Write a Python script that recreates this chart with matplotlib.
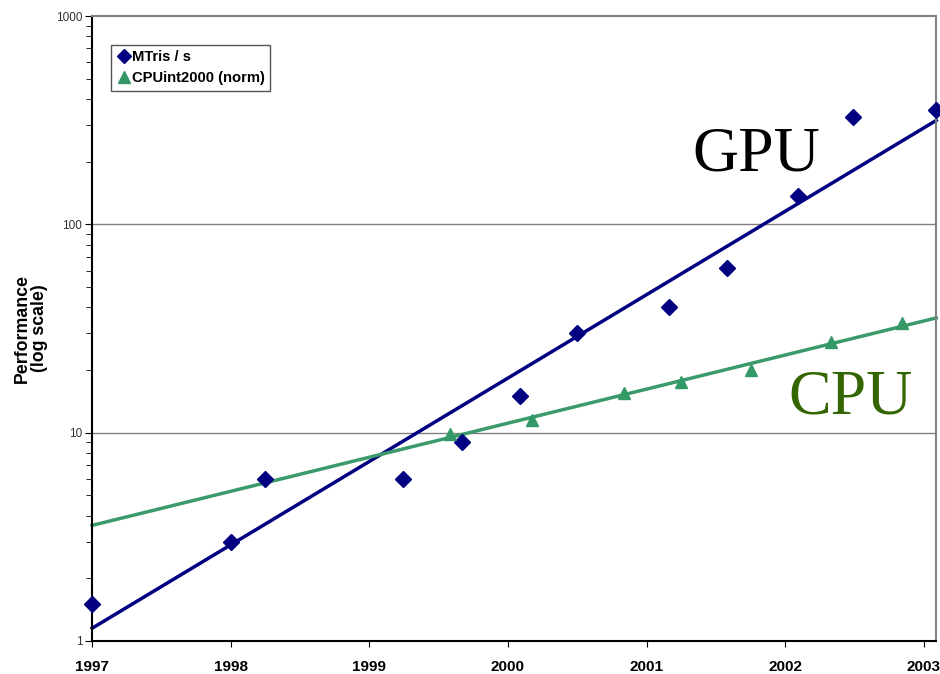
import numpy as np
import matplotlib.pyplot as plt
from matplotlib.lines import Line2D

# GPU throughput (MTris / s)
gpu_year = [1997.0, 1998.0, 1998.25, 1999.24, 1999.67, 2000.09, 2000.5,
            2001.16, 2001.58, 2002.09, 2002.49, 2003.09]
gpu_perf = [1.5, 3.0, 6.0, 6.0, 9.0, 15, 30, 40, 62, 137, 328, 354]

# CPU (SPECint2000, normalised)
cpu_year = [1999.58, 2000.17, 2000.84, 2001.25, 2001.75, 2002.33, 2002.84]
cpu_perf = [9.9, 11.5, 15.5, 17.5, 20, 27.3, 33.6]

years = [1997, 1998, 1999, 2000, 2001, 2002, 2003]

navy = '#000080'
green = '#339966'

fig = plt.figure(figsize=(9.4, 6.74), dpi=100)
ax = fig.add_axes([0.098, 0.049, 0.898, 0.927])
ax.set_yscale('log')
ax.set_xlim(1997, 2003.09)
ax.set_ylim(1, 1000)

# exponential trend lines (least squares in log space)
xs = np.array([1997, 2003.09])
g = np.polyfit(gpu_year, np.log10(gpu_perf), 1)
c = np.polyfit(cpu_year, np.log10(cpu_perf), 1)
ax.plot(xs, 10 ** np.polyval(g, xs), color=navy, lw=2.5, zorder=2, clip_on=False)
ax.plot(xs, 10 ** np.polyval(c, xs), color='#3a9a6a', lw=2.5, zorder=2, clip_on=False)

ax.plot(gpu_year, gpu_perf, 'D', color=navy, ms=8.5, zorder=3, clip_on=False)
ax.plot(cpu_year, cpu_perf, '^', color=green, ms=9, zorder=3, clip_on=False)

for v in [10, 100]:
    ax.axhline(v, color='#808080', lw=1, zorder=1)

ax.set_xticks(years)
ax.set_xticklabels([str(y) for y in years], fontweight='bold', fontsize=11,
                   family='Liberation Sans')
ax.set_yticks([1, 10, 100, 1000])
ax.set_yticklabels(['1', '10', '100', '1000'], fontsize=8.5, color='#333333',
                   family='Liberation Sans')
ax.tick_params(axis='x', direction='out', length=4, pad=10)
ax.tick_params(axis='y', which='both', direction='out', length=5, pad=2)
ax.tick_params(axis='y', which='minor', length=4)
ax.set_ylabel('Performance\n(log scale)', fontweight='bold', fontsize=12.8,
              family='Liberation Sans', linespacing=1.0)
ax.yaxis.set_label_coords(-0.052, 0.5)

ax.spines['top'].set_color('#808080')
ax.spines['right'].set_color('#808080')
for s in ax.spines.values():
    s.set_linewidth(1.5)

ax.text(2001.33, 182, 'GPU', family='Liberation Serif', fontsize=46,
        color='black', va='baseline')
ax.text(2002.02, 12.4, 'CPU', family='Liberation Serif', fontsize=46,
        color='#336600', va='baseline')

handles = [Line2D([], [], ls='', marker='D', color=navy, ms=7),
           Line2D([], [], ls='', marker='^', color=green, ms=9)]
leg = ax.legend(handles, ['MTris / s', 'CPUint2000 (norm)'], loc='upper left',
                bbox_to_anchor=(0.0225, 0.954), fancybox=False, framealpha=1,
                edgecolor='#555555', handletextpad=0.1, handlelength=1.0,
                borderpad=0.35, labelspacing=0.5, borderaxespad=0,
                prop={'family': 'Liberation Sans', 'weight': 'bold', 'size': 10.6})
leg.get_frame().set_linewidth(1)

fig.savefig('out.png', dpi=100)
